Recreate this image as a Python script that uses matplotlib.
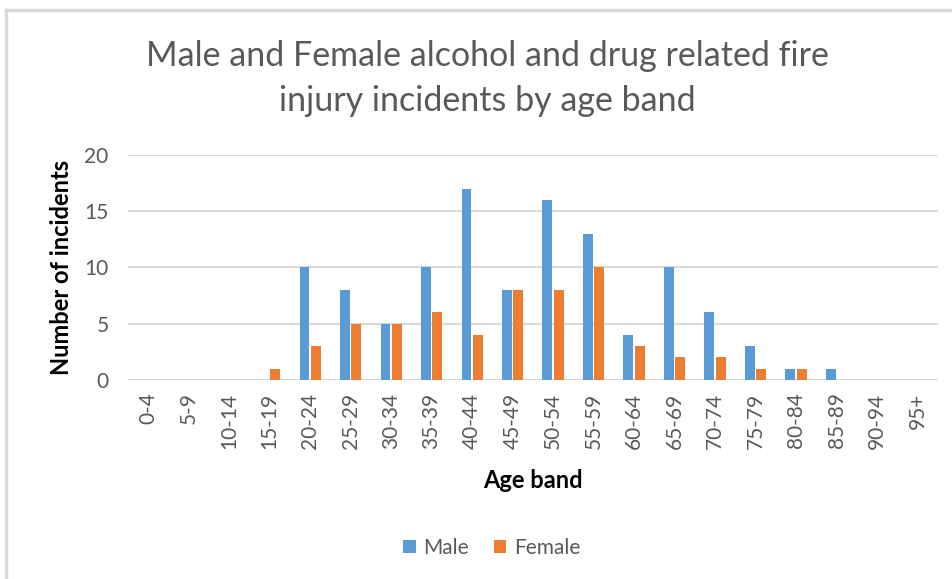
import numpy as np
import matplotlib.pyplot as plt
from matplotlib.lines import Line2D

age_bands = ['0-4', '5-9', '10-14', '15-19', '20-24', '25-29', '30-34', '35-39',
             '40-44', '45-49', '50-54', '55-59', '60-64', '65-69', '70-74',
             '75-79', '80-84', '85-89', '90-94', '95+']
male = [0, 0, 0, 0, 10, 8, 5, 10, 17, 8, 16, 13, 4, 10, 6, 3, 1, 1, 0, 0]
female = [0, 0, 0, 1, 3, 5, 5, 6, 4, 8, 8, 10, 3, 2, 2, 1, 1, 0, 0, 0]

plt.rcParams['font.family'] = ['Lato', 'DejaVu Sans']

fig = plt.figure(figsize=(9.53, 5.79), dpi=100)
ax = fig.add_axes([0.1343, 0.3437, 0.8497, 0.3886])

x = np.arange(len(age_bands))
w = 0.245
ax.bar(x - 0.14, male, w, color='#5B9BD5', label='Male', zorder=3)
ax.bar(x + 0.14, female, w, color='#ED7D31', label='Female', zorder=3)

ax.set_xlim(-0.5, len(age_bands) - 0.5)
ax.set_ylim(0, 20)
ax.set_yticks([0, 5, 10, 15, 20])
ax.grid(axis='y', color='#D9D9D9', linewidth=1.5, zorder=0)
for s in ax.spines.values():
    s.set_visible(False)
ax.tick_params(length=0, colors='#595959', labelsize=15)
ax.tick_params(axis='y', pad=14)
ax.tick_params(axis='x', pad=9)
ax.set_xticks(x)
ax.set_xticklabels(age_bands, rotation=90)

ax.set_ylabel('Number of incidents', fontsize=17, fontweight='bold', color='black', labelpad=8)
ax.set_xlabel('Age band', fontsize=17, fontweight='bold', color='black', labelpad=15)

fig.text(0.511, 0.903, 'Male and Female alcohol and drug related fire', ha='center', va='center',
         fontsize=24.5, color='#595959')
fig.text(0.511, 0.826, 'injury incidents by age band', ha='center', va='center',
         fontsize=24.5, color='#595959')

fig.legend(loc='center', bbox_to_anchor=(0.516, 0.054), ncol=2, frameon=False,
           fontsize=15, handlelength=0.6, handleheight=0.6, handletextpad=0.35,
           columnspacing=1.2, labelcolor='#595959')

# light outer chart frame
fig.add_artist(Line2D([6 / 953, 1.0], [1 - 10 / 579, 1 - 10 / 579], color='#D9D9D9', linewidth=2.5))
fig.add_artist(Line2D([6 / 953, 6 / 953], [0.0, 1 - 10 / 579], color='#D9D9D9', linewidth=2.5))

fig.savefig('out.png', dpi=100)
